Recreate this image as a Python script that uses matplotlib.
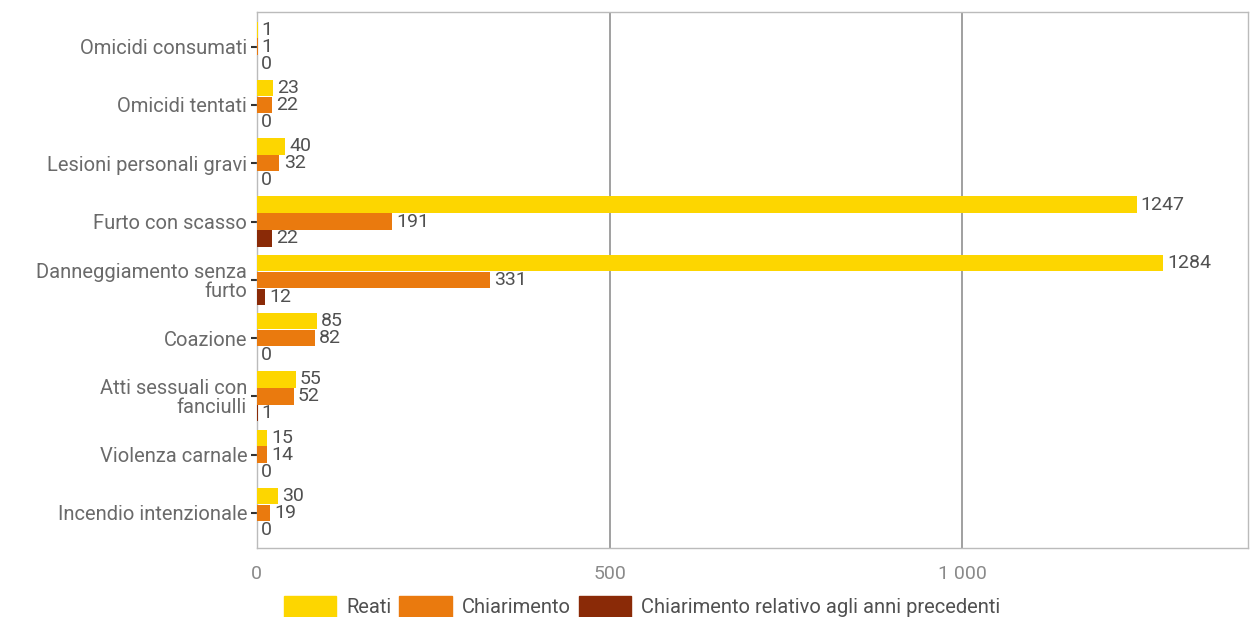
import matplotlib.pyplot as plt
import numpy as np
from matplotlib.patches import Patch

# === DATI ===
categories = ["Omicidi consumati", "Omicidi tentati", "Lesioni personali gravi",
              "Furto con scasso", "Danneggiamento senza\nfurto", "Coazione",
              "Atti sessuali con\nfanciulli", "Violenza carnale", "Incendio intenzionale"]
reati = [1, 23, 40, 1247, 1284, 85, 55, 15, 30]
chiarimento = [1, 22, 32, 191, 331, 82, 52, 14, 19]
chiarimento_prec = [0, 0, 0, 22, 12, 0, 1, 0, 0]

series = [("Reati", reati, "#FDD600"),
          ("Chiarimento", chiarimento, "#EA7A0E"),
          ("Chiarimento relativo agli anni precedenti", chiarimento_prec, "#8A2A07")]

plt.rcParams['font.family'] = ['Roboto', 'DejaVu Sans']

fig, ax = plt.subplots(figsize=(12.53, 6.17), dpi=100)
fig.subplots_adjust(left=0.205, right=0.996, top=0.981, bottom=0.112)

y = np.arange(len(categories))
h = 0.29
for i, (name, vals, col) in enumerate(series):
    pos = y + (i - 1) * h
    ax.barh(pos, vals, height=h * 0.97, color=col, zorder=3)
    for p, v in zip(pos, vals):
        ax.text(v + 6, p, str(v), va='center', ha='left', fontsize=14,
                color='#505050', zorder=4)

ax.set_yticks(y)
ax.set_yticklabels(categories, fontsize=14.5, color='#6a6a6a', linespacing=1.0)
ax.set_ylim(len(categories) - 0.4, -0.6)
ax.set_xlim(0, 1405)
ax.set_xticks([0, 500, 1000])
ax.set_xticklabels(["0", "500", "1 000"], fontsize=14, color='#8a8a8a')
ax.tick_params(axis='x', length=0, pad=12)
ax.tick_params(axis='y', length=4, width=1.5, color='#333333', pad=3)
ax.grid(axis='x', color='#999999', linewidth=1.3, zorder=0)
for s in ax.spines.values():
    s.set_color('#bbbbbb')
    s.set_linewidth(1)

handles = [Patch(color=c, label=n) for n, _, c in series]
fig.legend(handles=handles, loc='lower left', bbox_to_anchor=(0.212, -0.03), ncol=3,
           frameon=False, fontsize=14.5, handlelength=2.6, handleheight=1.2,
           columnspacing=0.4, handletextpad=0.5, labelcolor='#505050')

plt.savefig("out.png")
